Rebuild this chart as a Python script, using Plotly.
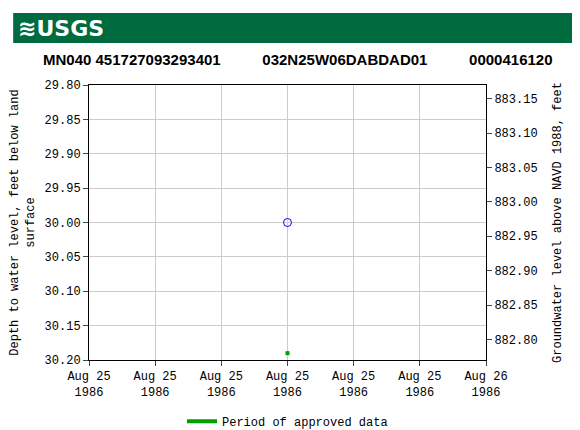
import plotly.graph_objects as go

obs_time = ["1986-08-25 12:00"]
obs_depth = [30.00]
approved_time = ["1986-08-25 12:00"]
approved_depth = [30.19]
land_datum = 912.97
left_range = [30.20, 29.80]
left_ticks = [29.80, 29.85, 29.90, 29.95, 30.00, 30.05, 30.10, 30.15, 30.20]
right_ticks = [882.80, 882.85, 882.90, 882.95, 883.00, 883.05, 883.10, 883.15]
x_ticks = ["1986-08-25 00:00", "1986-08-25 04:00", "1986-08-25 08:00", "1986-08-25 12:00",
           "1986-08-25 16:00", "1986-08-25 20:00", "1986-08-26 00:00"]
x_labels = ["Aug 25<br>1986"] * 6 + ["Aug 26<br>1986"]

mono = "Liberation Mono"
fig = go.Figure()
fig.add_trace(go.Scatter(x=obs_time, y=obs_depth, mode="markers", showlegend=False,
                         marker=dict(symbol="circle-open", size=8, color="#0000ff", line=dict(width=1))))
fig.add_trace(go.Scatter(x=approved_time, y=approved_depth, mode="markers", showlegend=False,
                         marker=dict(symbol="square", size=4, color="#00a000")))
fig.add_trace(go.Scatter(x=[None], y=[None], mode="lines", name="Period of approved data",
                         line=dict(color="#00a000", width=4)))
fig.add_trace(go.Scatter(x=obs_time, y=[land_datum - d for d in obs_depth], yaxis="y2",
                         mode="markers", marker=dict(opacity=0), showlegend=False, hoverinfo="skip"))
fig.update_layout(
    width=580, height=430, plot_bgcolor="white", paper_bgcolor="white",
    margin=dict(l=81, r=102, t=77, b=78, autoexpand=False),
    font=dict(family=mono, size=12, color="black"),
    xaxis=dict(range=[x_ticks[0], x_ticks[-1]], tickvals=x_ticks, ticktext=x_labels,
               showgrid=True, gridcolor="#cccccc", linecolor="black", mirror=True,
               ticks="outside", automargin=False, tickfont=dict(family=mono, size=12)),
    yaxis=dict(range=left_range, tickvals=left_ticks, tickformat=".2f", automargin=False,
               showgrid=True, gridcolor="#cccccc", linecolor="black", mirror=True,
               ticks="outside",
               title=dict(text="Depth to water level, feet below land<br>surface",
                          font=dict(family=mono, size=12))),
    yaxis2=dict(overlaying="y", side="right", automargin=False,
                range=[land_datum - left_range[0], land_datum - left_range[1]],
                tickvals=right_ticks, tickformat=".2f", showgrid=False, ticks="outside",
                title=dict(text="Groundwater level above NAVD 1988, feet",
                           font=dict(family=mono, size=12))),
    legend=dict(orientation="h", x=0.5, xanchor="center", y=-0.17, yanchor="top",
                font=dict(family=mono, size=12)),
    shapes=[dict(type="rect", xref="paper", yref="paper", x0=-0.191, x1=1.244,
                 y0=1.153, y1=1.262, fillcolor="#006b3f", line=dict(width=0), layer="above")],
    annotations=[
        dict(text="<b>≋USGS</b>", xref="paper", yref="paper", x=-0.185, y=1.207,
             xanchor="left", yanchor="middle", showarrow=False,
             font=dict(family="DejaVu Sans", size=22, color="white")),
        dict(text="<b>MN040 451727093293401          032N25W06DABDAD01          0000416120</b>",
             xref="paper", yref="paper", x=0.526, y=1.091, xanchor="center", yanchor="middle",
             showarrow=False, font=dict(family="Liberation Sans Narrow, Liberation Sans", size=15)),
    ],
)
fig.write_html("out.html")
